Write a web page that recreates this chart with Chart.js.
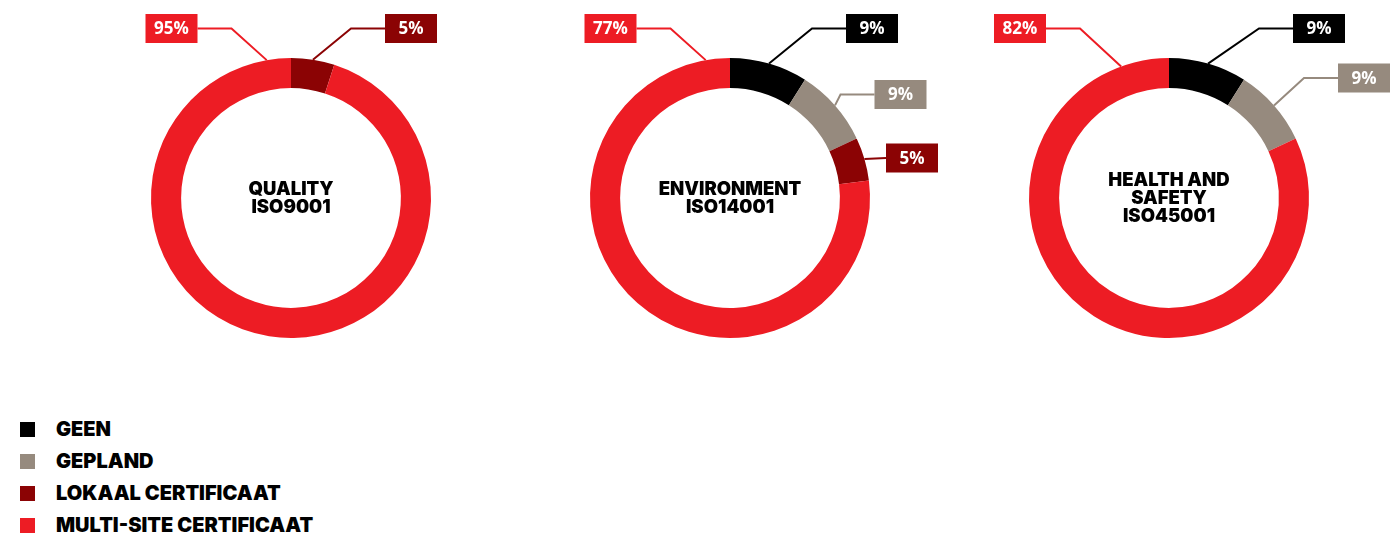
<!DOCTYPE html>
<html>
<head>
<meta charset="utf-8">
<script src="https://cdn.jsdelivr.net/npm/chart.js@4.4.1/dist/chart.umd.min.js"></script>
<style>
  html, body { margin: 0; padding: 0; background: #fff; overflow: hidden; }
  #wrap { position: relative; width: 1398px; height: 534px; overflow: hidden; }
  .donut { position: absolute; top: 0; }
  #legend { position: absolute; left: 20px; top: 413px; font-family: Inter, sans-serif; font-weight: 900; font-size: 20px; color: #000; }
  .item { height: 32px; display: flex; align-items: center; }
  .sw { width: 15px; height: 15px; margin-right: 21px; }
</style>
</head>
<body>
<div id="wrap">
  <canvas id="c0" class="donut" width="480" height="360"></canvas>
  <canvas id="c1" class="donut" width="480" height="360"></canvas>
  <canvas id="c2" class="donut" width="480" height="360"></canvas>
  <div id="legend"></div>
</div>
<script>
const categories = ['GEEN', 'GEPLAND', 'LOKAAL CERTIFICAAT', 'MULTI-SITE CERTIFICAAT'];
const qualityValues = [0, 0, 5, 95];
const environmentValues = [9, 9, 5, 77];
const healthSafetyValues = [9, 9, 0, 82];
const chartTitles = [['QUALITY', 'ISO9001'], ['ENVIRONMENT', 'ISO14001'], ['HEALTH AND', 'SAFETY', 'ISO45001']];

const colors = ['#000000', '#968a7e', '#8b0304', '#ed1c24'];
const centersX = [291, 730, 1169];

// where each value label box sits, relative to the doughnut centre (null = no label)
const labelLayout = [
  [null, null, { dx: 120, dy: -169.5, elbow: 34 }, { dx: -119.5, dy: -169.5, angle: -10, elbow: 34 }],
  [{ dx: 142, dy: -169.5, elbow: 34 }, { dx: 170.5, dy: -103.5, elbow: 34 }, { dx: 182, dy: -40, elbow: 0 }, { dx: -119.5, dy: -169.5, angle: -10, elbow: 34 }],
  [{ dx: 150, dy: -169.5, elbow: 34 }, { dx: 195, dy: -120, elbow: 34 }, null, { dx: -149, dy: -169.5, angle: -20, elbow: 34 }]
];

const allValues = [qualityValues, environmentValues, healthSafetyValues];

const donutLabels = {
  id: 'donutLabels',
  afterDatasetsDraw(chart, args, opts) {
    const ctx = chart.ctx;
    const meta = chart.getDatasetMeta(0);
    const values = chart.data.datasets[0].data;
    const layout = opts.layout;
    let cx = 0, cy = 0;
    meta.data.forEach((arc, i) => {
      const p = arc.getProps(['x', 'y', 'startAngle', 'endAngle', 'outerRadius'], true);
      cx = p.x; cy = p.y;
      const lay = layout[i];
      if (!lay || !values[i]) return;
      const a = lay.angle != null ? lay.angle * Math.PI / 180 - Math.PI / 2 : (p.startAngle + p.endAngle) / 2;
      const ax = p.x + Math.cos(a) * p.outerRadius;
      const ay = p.y + Math.sin(a) * p.outerRadius;
      const bx = p.x + lay.dx, by = p.y + lay.dy;
      const bw = 52, bh = 29;
      const side = lay.dx > 0 ? -1 : 1;
      const edgeX = bx + side * bw / 2;
      ctx.save();
      ctx.strokeStyle = colors[i];
      ctx.lineWidth = 2;
      ctx.beginPath();
      ctx.moveTo(ax, ay);
      if (lay.elbow) ctx.lineTo(edgeX + side * lay.elbow, by);
      ctx.lineTo(edgeX, by);
      ctx.stroke();
      ctx.fillStyle = colors[i];
      ctx.fillRect(bx - bw / 2, by - bh / 2, bw, bh);
      ctx.fillStyle = '#fff';
      ctx.font = '700 17px "Open Sans"';
      ctx.textAlign = 'center';
      ctx.textBaseline = 'middle';
      ctx.fillText(values[i] + '%', bx, by + 1);
      ctx.restore();
    });
    const lines = opts.title;
    ctx.save();
    ctx.fillStyle = '#000';
    ctx.font = '900 18.5px Inter';
    ctx.textAlign = 'center';
    ctx.textBaseline = 'middle';
    const lh = 18;
    lines.forEach((t, k) => {
      ctx.fillText(t, cx, cy + 0.5 + (k - (lines.length - 1) / 2) * lh);
    });
    ctx.restore();
  }
};

allValues.forEach((vals, n) => {
  const canvas = document.getElementById('c' + n);
  canvas.style.left = (centersX[n] - 240) + 'px';
  new Chart(canvas.getContext('2d'), {
    type: 'doughnut',
    data: {
      labels: categories,
      datasets: [{
        data: vals,
        backgroundColor: colors,
        borderWidth: 0
      }]
    },
    options: {
      responsive: false,
      animation: false,
      cutout: '78.5%',
      layout: { padding: { top: 58, bottom: 22, left: 100, right: 100 } },
      plugins: {
        legend: { display: false },
        tooltip: { enabled: false },
        donutLabels: { layout: labelLayout[n], title: chartTitles[n] }
      }
    },
    plugins: [donutLabels]
  });
});

const legend = document.getElementById('legend');
categories.forEach((name, i) => {
  const row = document.createElement('div');
  row.className = 'item';
  row.innerHTML = '<span class="sw" style="background:' + colors[i] + '"></span><span>' + name + '</span>';
  legend.appendChild(row);
});
</script>
</body>
</html>
